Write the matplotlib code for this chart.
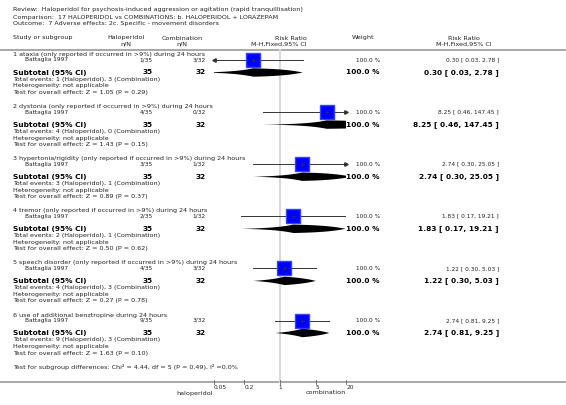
import numpy as np
import matplotlib
matplotlib.use('Agg')
import matplotlib.pyplot as plt

W=566
H=405

header=['Review:  Haloperidol for psychosis-induced aggression or agitation (rapid tranquillisation)',
        'Comparison:  17 HALOPERIDOL vs COMBINATIONS: b. HALOPERIDOL + LORAZEPAM',
        'Outcome:  7 Adverse effects: 2c. Specific - movement disorders']

groups=['1 ataxia (only reported if occurred in >9%) during 24 hours',
        '2 dystonia (only reported if occurred in >9%) during 24 hours',
        '3 hypertonia/rigidity (only reported if occurred in >9%) during 24 hours',
        '4 tremor (only reported if occurred in >9%) during 24 hours',
        '5 speech disorder (only reported if occurred in >9%) during 24 hours',
        '6 use of additional benztropine during 24 hours']
study='Battaglia 1997'
halo_ev=[1,4,3,2,4,9]
halo_n=35
comb_ev=[3,0,1,1,3,3]
comb_n=32
rr=[0.30,8.25,2.74,1.83,1.22,2.74]
lo=[0.03,0.46,0.30,0.17,0.30,0.81]
hi=[2.78,147.45,25.05,19.21,5.03,9.25]
zval=[1.05,1.43,0.89,0.50,0.27,1.63]
pval=[0.29,0.15,0.37,0.62,0.78,0.10]
weight=[100.0]*6

xticks=[0.05,0.2,1,5,20]
xticklabels=['0.05','0.2','1','5','20']
xmin=0.05
xmax=20.0

# pixel layout
xl=213.6
xr=346.4
y_first=54.5
gstep=52.1

fig=plt.figure(figsize=(W/100.0,H/100.0),dpi=100)
ax=fig.add_axes([0,0,1,1])
ax.set_xlim(0,W)
ax.set_ylim(H,0)
ax.axis('off')

fp=fig.add_axes([xl/W,0,(xr-xl)/W,1])
fp.set_xscale('log')
fp.set_xlim(xmin,xmax)
fp.set_ylim(H,0)
fp.axis('off')

tc='#222222'
fs=4.6
fss=4.2
fsb=5.3

for i,t in enumerate(header):
    ax.text(13,10+7*i,t,fontsize=fs,color=tc,va='center')

ax.text(13,38,'Study or subgroup',fontsize=fs,color=tc,va='center')
ax.text(126,38,'Haloperidol',fontsize=fs,color=tc,va='center',ha='center')
ax.text(126,44,'n/N',fontsize=fs,color=tc,va='center',ha='center')
ax.text(182,38,'Combination',fontsize=fs,color=tc,va='center',ha='center')
ax.text(182,44,'n/N',fontsize=fs,color=tc,va='center',ha='center')
ax.text(307,38,'Risk Ratio',fontsize=fs,color=tc,va='center',ha='right')
ax.text(307,44,'M-H,Fixed,95% CI',fontsize=fs,color=tc,va='center',ha='right')
ax.text(352,38,'Weight',fontsize=fs,color=tc,va='center')
ax.text(464,38,'Risk Ratio',fontsize=fs,color=tc,va='center',ha='center')
ax.text(464,44,'M-H,Fixed,95% CI',fontsize=fs,color=tc,va='center',ha='center')

ax.plot([0,W],[49.5,49.5],color='#999999',lw=1.2)
fp.plot([1,1],[49.5,382],color='#d8d8d8',lw=1.5,zorder=0)

for g in range(len(groups)):
    y0=y_first+gstep*g
    ys=y0+5.5
    yt=y0+18
    ax.text(13,y0,groups[g],fontsize=fs,color=tc,va='center')
    ax.text(25,ys,study,fontsize=fss,color=tc,va='center')
    ax.text(153,ys,'%d/%d'%(halo_ev[g],halo_n),fontsize=fss,color=tc,va='center',ha='right')
    ax.text(206,ys,'%d/%d'%(comb_ev[g],comb_n),fontsize=fss,color=tc,va='center',ha='right')
    ax.text(380,ys,'%.1f %%'%weight[g],fontsize=fss,color=tc,va='center',ha='right')
    ax.text(499,ys,'%.2f [ %.2f, %.2f ]'%(rr[g],lo[g],hi[g]),fontsize=fss,color=tc,va='center',ha='right')

    ax.text(13,yt,'Subtotal (95% CI)',fontsize=fsb,color='black',va='center',fontweight='bold')
    ax.text(153,yt,'%d'%halo_n,fontsize=fsb,color='black',va='center',ha='right',fontweight='bold')
    ax.text(206,yt,'%d'%comb_n,fontsize=fsb,color='black',va='center',ha='right',fontweight='bold')
    ax.text(380,yt,'%.1f %%'%weight[g],fontsize=fsb,color='black',va='center',ha='right',fontweight='bold')
    ax.text(499,yt,'%.2f [ %.2f, %.2f ]'%(rr[g],lo[g],hi[g]),fontsize=fsb,color='black',va='center',ha='right',fontweight='bold')

    ax.text(13,y0+25,'Total events: %d (Haloperidol), %d (Combination)'%(halo_ev[g],comb_ev[g]),fontsize=fs,color=tc,va='center')
    ax.text(13,y0+31.5,'Heterogeneity: not applicable',fontsize=fs,color=tc,va='center')
    ax.text(13,y0+38,'Test for overall effect: Z = %.2f (P = %.2f)'%(zval[g],pval[g]),fontsize=fs,color=tc,va='center')

    # study CI line + square
    a=max(lo[g],xmin)
    b=min(hi[g],xmax)
    fp.plot([a,b],[ys,ys],color='#333333',lw=0.7,zorder=2)
    if lo[g]<xmin:
        fp.plot([a*1.04],[ys],marker='<',ms=2.5,color='#333333',clip_on=False,zorder=2)
    if hi[g]>xmax:
        fp.plot([b/1.04],[ys],marker='>',ms=2.5,color='#333333',clip_on=False,zorder=2)
    fp.plot([rr[g]],[ys],marker='s',ms=10,color='#0000ff',mec='#3344ff',zorder=3)
    fp.plot([rr[g],rr[g]],[ys-1.5,ys+1.5],color='#333333',lw=0.5,zorder=4)
    fp.plot([rr[g]/1.08,rr[g]*1.08],[ys,ys],color='#333333',lw=0.5,zorder=4)

    # diamond, interpolated linearly in data space
    left=np.linspace(lo[g],rr[g],60)
    right=np.linspace(rr[g],hi[g],60)
    hl=4.2*(left-lo[g])/(rr[g]-lo[g])
    hr=4.2*(hi[g]-right)/(hi[g]-rr[g])
    xs=np.concatenate([left,right,right[::-1],left[::-1]])
    yy=np.concatenate([yt-hl,yt-hr,yt+hr[::-1],yt+hl[::-1]])
    fp.fill(xs,yy,color='black',lw=0,zorder=3)

ax.text(13,367,'Test for subgroup differences: Chi\u00b2 = 4.44, df = 5 (P = 0.49), I\u00b2 =0.0%',fontsize=fs,color=tc,va='center')

ax.plot([0,W],[382,382],color='#999999',lw=1.2)
for t,l in zip(xticks,xticklabels):
    fp.plot([t,t],[380,384],color='#666666',lw=0.6,clip_on=False)
    fp.text(t,387.5,l,fontsize=fss,color=tc,ha='left' if t!=1 else 'center',va='center')
ax.text(213,393,'haloperidol',fontsize=fs,color=tc,va='center',ha='right')
ax.text(346,393,'combination',fontsize=fs,color=tc,va='center',ha='right')

fig.savefig('out.png',dpi=100)
